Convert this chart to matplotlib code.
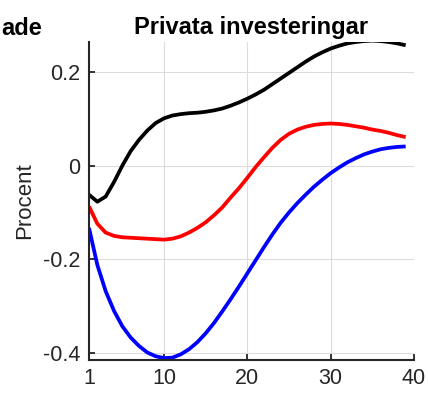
import matplotlib
matplotlib.use("Agg")
import matplotlib.pyplot as plt

plt.rcParams["font.family"] = ["Liberation Sans", "DejaVu Sans"]

# horizon (quarters)
x = list(range(1, 40))

black = [-0.062, -0.077, -0.066, -0.035, 0.000, 0.031, 0.055, 0.075, 0.091, 0.101,
         0.107, 0.110, 0.112, 0.113, 0.115, 0.118, 0.122, 0.128, 0.135, 0.143,
         0.152, 0.162, 0.174, 0.186, 0.198, 0.210, 0.222, 0.233, 0.242, 0.250,
         0.256, 0.261, 0.264, 0.266, 0.267, 0.266, 0.264, 0.261, 0.257]
red = [-0.087, -0.124, -0.143, -0.150, -0.153, -0.154, -0.155, -0.156, -0.157, -0.158,
       -0.156, -0.151, -0.143, -0.133, -0.121, -0.106, -0.089, -0.068, -0.048, -0.026,
       -0.003, 0.018, 0.038, 0.055, 0.068, 0.077, 0.083, 0.087, 0.089, 0.090,
       0.089, 0.087, 0.084, 0.081, 0.077, 0.074, 0.070, 0.065, 0.061]
blue = [-0.133, -0.212, -0.268, -0.310, -0.343, -0.367, -0.385, -0.399, -0.407, -0.411,
        -0.410, -0.403, -0.392, -0.377, -0.358, -0.336, -0.311, -0.285, -0.258, -0.230,
        -0.202, -0.174, -0.147, -0.122, -0.100, -0.080, -0.062, -0.045, -0.030, -0.016,
        -0.004, 0.007, 0.016, 0.024, 0.030, 0.035, 0.038, 0.040, 0.041]

xticks = [1, 10, 20, 30, 40]
yticks = [-0.4, -0.2, 0, 0.2]
ytick_labels = ["-0.4", "-0.2", "0", "0.2"]

fig = plt.figure(figsize=(4.28, 3.93), dpi=100)
ax = fig.add_axes([89 / 428, 1 - 360 / 393, 325 / 428, 318 / 393])

ax.plot(x, black, color="black", linewidth=2.7, solid_capstyle="butt")
ax.plot(x, red, color="#ff0000", linewidth=2.7, solid_capstyle="butt")
ax.plot(x, blue, color="#0000ff", linewidth=2.7, solid_capstyle="butt")

ax.set_xlim(1, 40)
ax.set_ylim(-0.415, 0.264)
ax.set_xticks(xticks)
ax.set_yticks(yticks)
ax.set_yticklabels(ytick_labels)
ax.tick_params(direction="in", length=4, width=1.3, labelsize=15.5,
               colors="#262626", pad=6)
ax.grid(True, color="#dcdcdc", linewidth=0.8)
ax.set_axisbelow(True)

for s in ["top", "right"]:
    ax.spines[s].set_visible(False)
for s in ["left", "bottom"]:
    ax.spines[s].set_linewidth(1.5)
    ax.spines[s].set_color("#262626")

ax.set_ylabel("Procent", fontsize=16, color="#262626", labelpad=6)
ax.set_title("Privata investeringar", fontsize=17, fontweight="bold", pad=6)

# tail of the neighbouring panel's title
fig.text(42 / 428, 1 - 35 / 393, "ade", fontsize=17, fontweight="bold",
         ha="right", va="baseline")

fig.savefig("out.png", dpi=100)
